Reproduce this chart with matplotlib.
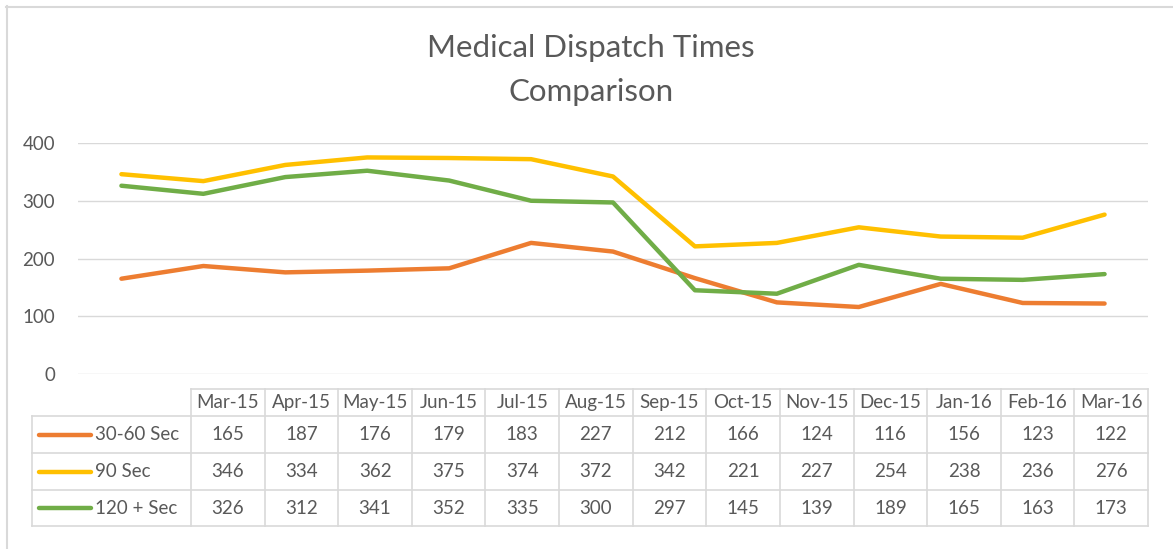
import matplotlib
matplotlib.use("Agg")
import matplotlib.pyplot as plt
from matplotlib.lines import Line2D

months = ["Mar-15", "Apr-15", "May-15", "Jun-15", "Jul-15", "Aug-15", "Sep-15",
          "Oct-15", "Nov-15", "Dec-15", "Jan-16", "Feb-16", "Mar-16"]
series_names = ["30-60 Sec", "90 Sec", "120 + Sec"]
sec_30_60 = [165, 187, 176, 179, 183, 227, 212, 166, 124, 116, 156, 123, 122]
sec_90 = [346, 334, 362, 375, 374, 372, 342, 221, 227, 254, 238, 236, 276]
sec_120 = [326, 312, 341, 352, 335, 300, 297, 145, 139, 189, 165, 163, 173]
colors = ["#ED7D31", "#FFC000", "#70AD47"]
yticks = [0, 100, 200, 300, 400]

W, H = 1173, 549
plt.rcParams['font.family'] = ['Lato', 'DejaVu Sans']
fig = plt.figure(figsize=(W / 100, H / 100), dpi=100)
TXT = "#595959"
GRID = "#d9d9d9"

def fx(px):
    return px / W

def fy(py):
    return 1 - py / H

# outer border (top and left visible)
fig.add_artist(Line2D([fx(6), fx(1173)], [fy(6.5), fy(6.5)], color=GRID, lw=1.5))
fig.add_artist(Line2D([fx(6.5), fx(6.5)], [fy(6), fy(549)], color=GRID, lw=1.5))

# title
fig.text(fx(591), fy(48), "Medical Dispatch Times", ha="center", va="center",
         fontsize=22.5, color=TXT)
fig.text(fx(591), fy(92), "Comparison", ha="center", va="center",
         fontsize=22.5, color=TXT)

# plot area
left, right, top, bottom = 78, 1148, 143, 374
ax = fig.add_axes([fx(left), fy(bottom), fx(right - left), (bottom - top) / H])
x = list(range(len(months)))
data = [sec_30_60, sec_90, sec_120]
for i, (vals, c) in enumerate(zip(data, colors)):
    ax.plot(x, vals, color=c, lw=3.2, solid_capstyle="round", solid_joinstyle="round", zorder=3 + i)
ax.set_xlim(-0.53, len(months) - 0.47)
ax.set_ylim(0, 400)
ax.set_yticks(yticks)
ax.set_yticklabels([str(v) for v in yticks])
ax.set_xticks([])
ax.tick_params(axis="y", length=0, pad=16.5, labelsize=13.5, labelcolor=TXT)
for s in ax.spines.values():
    s.set_visible(False)
ax.grid(axis="y", color=GRID, lw=1.0)
ax.set_axisbelow(True)
ax.patch.set_alpha(0)

# data table
col0_l, col0_r, tab_r = 32, 191, 1148
row_edges = [389, 416, 453, 490, 526]
ncol = len(months)
cw = (tab_r - col0_r) / ncol
BORDER = "#d9d9d9"

def hline(y, x0, x1):
    fig.add_artist(Line2D([fx(x0), fx(x1)], [fy(y), fy(y)], color=BORDER, lw=1.2))

def vline(xp, y0, y1):
    fig.add_artist(Line2D([fx(xp), fx(xp)], [fy(y0), fy(y1)], color=BORDER, lw=1.2))

hline(row_edges[0], col0_r, tab_r)
for y in row_edges[1:]:
    hline(y, col0_l, tab_r)
vline(col0_l, row_edges[1], row_edges[-1])
for j in range(ncol + 1):
    vline(col0_r + j * cw, row_edges[0], row_edges[-1])

FS = 13.5
for j, m in enumerate(months):
    cx = col0_r + (j + 0.5) * cw
    fig.text(fx(cx), fy((row_edges[0] + row_edges[1]) / 2), m, ha="center", va="center",
             fontsize=13.5, color=TXT)
for i, (name, vals, c) in enumerate(zip(series_names, data, colors)):
    cy = (row_edges[i + 1] + row_edges[i + 2]) / 2
    fig.add_artist(Line2D([fx(39), fx(91)], [fy(cy), fy(cy)], color=c, lw=3.2,
                          solid_capstyle="round"))
    fig.text(fx(95), fy(cy), name, ha="left", va="center", fontsize=FS, color=TXT)
    for j, v in enumerate(vals):
        cx = col0_r + (j + 0.5) * cw
        fig.text(fx(cx), fy(cy), str(v), ha="center", va="center", fontsize=FS, color=TXT)

fig.savefig("out.png", dpi=100)
